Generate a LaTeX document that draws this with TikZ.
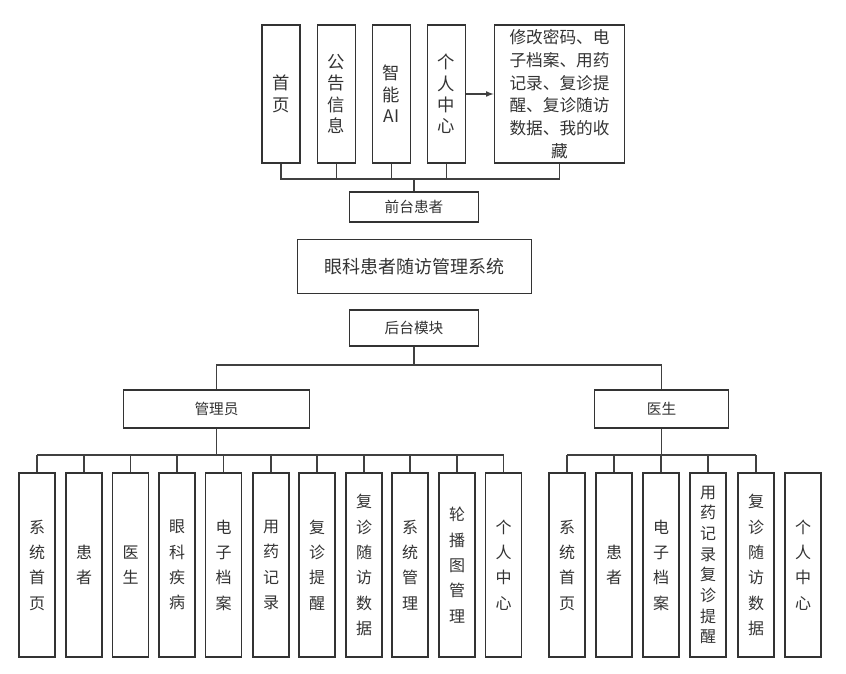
\documentclass[tikz,border=0pt]{standalone}
\usepackage{fontspec}
\setmainfont{Noto Sans CJK SC}
\begin{document}
\begin{tikzpicture}[x=0.75pt,y=-0.75pt,
  bx/.style={draw=black!80,line width=0.9pt,inner sep=0pt,text=black!80,align=center,font=\fontsize{13}{16}\selectfont},
  sb/.style={bx,font=\fontsize{12}{19}\selectfont},
  sbt/.style={bx,font=\fontsize{12}{15.5}\selectfont},
  ln/.style={draw=black!75,line width=0.9pt}]
\useasboundingbox (0,0) rectangle (846,674);
% top
\node[bx,minimum width=28.5pt,minimum height=103.5pt] (t1) at (281,94) {首\\页};
\node[bx,minimum width=28.5pt,minimum height=103.5pt] (t2) at (336.5,94) {公\\告\\信\\息};
\node[bx,minimum width=28.5pt,minimum height=103.5pt] (t3) at (391.5,94) {智\\能\\AI};
\node[bx,minimum width=28.5pt,minimum height=103.5pt] (t4) at (446.5,94) {个\\人\\中\\心};
\node[bx,minimum width=98pt,minimum height=103.5pt,font=\fontsize{12.5}{17}\selectfont] (t5) at (559.5,94) {修改密码、电\\子档案、用药\\记录、复诊提\\醒、复诊随访\\数据、我的收\\藏};
\draw[ln,-latex] (t4) -- (t5);
\node[bx,minimum width=97pt,minimum height=22.5pt,font=\fontsize{11}{13}\selectfont] (qt) at (414,207) {前台患者};
\coordinate (tb) at (414,179);
\draw[ln] (t1.south) |- (tb) -| (t5.south);
\foreach \n in {t2,t3,t4} \draw[ln] (\n.south) -- (\n.south |- tb);
\draw[ln] (tb) -- (qt);
\node[bx,minimum width=176pt,minimum height=40pt,font=\fontsize{13.5}{16}\selectfont] (main) at (414.5,266.5) {眼科患者随访管理系统};
\node[bx,minimum width=97pt,minimum height=27pt,font=\fontsize{11}{13}\selectfont] (ht) at (414,328) {后台模块};
\node[bx,minimum width=139pt,minimum height=28.5pt,font=\fontsize{11}{13}\selectfont] (adm) at (216.5,409) {管理员};
\node[bx,minimum width=100pt,minimum height=28.5pt,font=\fontsize{11}{13}\selectfont] (doc) at (661.5,409) {医生};
\coordinate (hb) at (414,365);
\draw[ln] (ht) -- (hb);
\draw[ln] (adm.north) |- (hb) -| (doc.north);
% admin children
\foreach \c/\t [count=\i] in {37/系\\统\\首\\页,84/患\\者,130.5/医\\生,177/眼\\科\\疾\\病,223.5/电\\子\\档\\案,271/用\\药\\记\\录,317/复\\诊\\提\\醒,364/复\\诊\\随\\访\\数\\据,410/系\\统\\管\\理,457/轮\\播\\图\\管\\理,503.5/个\\人\\中\\心}{
  \node[sb,minimum width=27pt,minimum height=138pt] (a\i) at (\c,565) {\t};
  \draw[ln] (a\i.north) -- (\c,455);
}
\draw[ln] (a1.north |- 0,455) -- (a11.north |- 0,455);
\draw[ln] (adm) -- (adm.south |- 0,455);
% doctor children
\foreach \c/\t [count=\i] in {567/系\\统\\首\\页,614/患\\者,661/电\\子\\档\\案,756/复\\诊\\随\\访\\数\\据,803/个\\人\\中\\心}{
  \node[sb,minimum width=27pt,minimum height=138pt] (d\i) at (\c,565) {\t};
}
\node[sbt,minimum width=27pt,minimum height=138pt] (dx) at (708,565) {用\\药\\记\\录\\复\\诊\\提\\醒};
\foreach \n in {d1,d2,d3,dx,d4} \draw[ln] (\n.north) -- (\n.north |- 0,455);
\draw[ln] (d1.north |- 0,455) -- (d4.north |- 0,455);
\draw[ln] (doc) -- (doc.south |- 0,455);
\end{tikzpicture}
\end{document}
